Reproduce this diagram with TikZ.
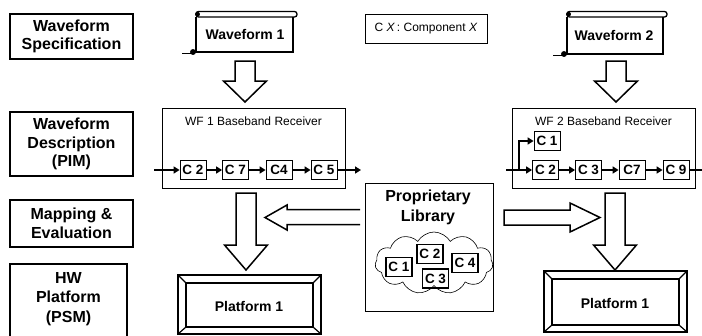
\documentclass[tikz,border=0pt]{standalone}
\usepackage{fontspec}
\setmainfont{Liberation Sans}
\usetikzlibrary{arrows.meta,shapes.symbols}

% scroll: body left, body right, top, bottom
\def\scrollshape(#1,#2,#3,#4){%
	\draw[line width=1.3pt, rounded corners=2.5pt] (#1,#3-5.5) rectangle (#2+4,#3);
	\filldraw[line width=0.8pt] (#1+1.5,#3-2.8) circle (2pt);
	\draw[line width=1.3pt] (#1,#3) -- (#1,#4) -- (#2,#4) -- (#2,#3);
	\filldraw[line width=0.8pt] (#1-3,#4) circle (2.5pt);
	\draw[line width=0.8pt] (#1-14,#4+1.5) -- (#1-3,#4+1.5);}
% block arrow pointing down: centre x, top y, head y, tip y
\def\blockdown(#1,#2,#3,#4){\draw[blockarrow] (#1-10,#2) -- (#1+10,#2) -- (#1+10,#3) -- (#1+21.5,#3) -- (#1,#4) -- (#1-21.5,#3) -- (#1-10,#3) -- cycle;}
% bevelled platform: left, top, right, bottom
\def\platform(#1,#2,#3,#4){%
	\draw[line width=1.6pt] (#1,#2) rectangle (#3,#4);
	\draw[line width=1.6pt] (#1+8,#2+8) rectangle (#3-8,#4-7);
	\draw[line width=1.2pt] (#1,#2) -- (#1+8,#2+8) (#3,#2) -- (#3-8,#2+8) (#1,#4) -- (#1+8,#4-7) (#3,#4) -- (#3-8,#4-7);}

\tikzset{
	lbl/.style={draw, line width=1.2pt, font=\fontsize{16}{18.5}\selectfont\bfseries, align=center, minimum width=123pt, inner sep=0pt},
	lbltext/.style={font=\fontsize{16}{19.5}\selectfont\bfseries, align=center, inner sep=0pt},
	bigtext/.style={font=\fontsize{14}{16}\selectfont\bfseries, inner sep=0pt},
	smalltext/.style={font=\fontsize{12}{14}\selectfont, inner sep=0pt},
	comp/.style={draw, line width=0.8pt, font=\fontsize{13.5}{15}\selectfont\bfseries, minimum width=26pt, minimum height=19pt, inner sep=0pt},
	libcomp/.style={comp, line width=1.6pt},
	pim/.style={draw, line width=0.8pt, minimum width=183pt, minimum height=80pt, inner sep=0pt},
	flow/.style={line width=1.5pt, -{Triangle[length=6pt,width=7pt]}},
	blockarrow/.style={draw, line width=1.5pt, fill=white, line join=miter},
}

\begin{document}
\begin{tikzpicture}[x=1pt, y=-1pt]
		%%%%% START %%%%%
		\useasboundingbox (0,0) rectangle (702,335);
		\clip (0,0) rectangle (702,335);
		
		% row labels
		\node[lbl, minimum height=45pt] (spec) at (71.5,36.5) {Waveform\\Specification};
		\node[lbl, minimum height=64pt] (desc) at (71.5,144) {Waveform\\Description\\(PIM)};
		\node[lbl, minimum height=47pt] (map) at (71.5,223.5) {Mapping \&\\Evaluation};
		\draw[line width=1.2pt] (10,345) -- (10,264) -- (127,264) -- (127,345);
		\node[lbltext] (hw) at (68.5,299) {HW\\Platform\\(PSM)};
		
		% waveforms
		\scrollshape(196,293,17,52)
		\node[bigtext] (wf1) at (245,34) {Waveform 1};
		\scrollshape(567,663,17,54)
		\node[bigtext] (wf2) at (614,35) {Waveform 2};
		\node[draw, line width=0.8pt, minimum width=122pt, minimum height=29pt, smalltext] (key) at (426,28.5) {C \textit{X}\,: Component \textit{X}};
		
		\blockdown(245,61,81,102)
		\blockdown(616,61,81,102)
		
		% WF 1 receiver
		\node[pim] (pim1) at (253.5,148) {};
		\node[smalltext] (t1) at (253.5,121) {WF 1 Baseband Receiver};
		\node[comp] (a2) at (193,170) {C 2};
		\node[comp] (a7) at (235.5,170) {C 7};
		\node[comp] (a4) at (279,170) {C4};
		\node[comp] (a5) at (324,170) {C 5};
		\coordinate (in1) at (154,170);
		\coordinate (out1) at (361,170);
		\draw[flow] (in1) -- (a2);
		\draw[flow] (a2) -- (a7);
		\draw[flow] (a7) -- (a4);
		\draw[flow] (a4) -- (a5);
		\draw[flow] (a5) -- (out1);
		
		% WF 2 receiver
		\node[pim] (pim2) at (603.5,148) {};
		\node[smalltext] (t2) at (603.5,121) {WF 2 Baseband Receiver};
		\node[comp] (b1) at (547,141) {C 1};
		\node[comp] (b2) at (545.5,170) {C 2};
		\node[comp] (b3) at (588.5,170) {C 3};
		\node[comp] (b7) at (632,170) {C7};
		\node[comp] (b9) at (676,170) {C 9};
		\coordinate (in2) at (506,170);
		\coordinate (fork2) at (519,170);
		\coordinate (out2) at (705,170);
		\draw[flow, line width=2.2pt] (in2) -- (b2);
		\draw[flow, line width=2.2pt] (fork2) |- (b1);
		\draw[flow] (b2) -- (b3);
		\draw[flow] (b3) -- (b7);
		\draw[flow] (b7) -- (b9);
		\draw[line width=1.5pt] (b9) -- (out2);
		
		\blockdown(246,193,245,270)
		\blockdown(615,193,245,270)
		
		% library
		\node[draw, line width=1pt, minimum width=128pt, minimum height=128pt] (lib) at (429,247) {};
		\node[lbltext] (libtxt) at (428,207.5) {Proprietary\\Library};
		\node[cloud, draw, line width=0.6pt, cloud puffs=11, cloud puff arc=120, aspect=1.9, minimum width=118pt, minimum height=62pt, inner sep=0pt] (cloud) at (434,263) {};
		\node[libcomp] (l1) at (399,267) {C 1};
		\node[libcomp] (l2) at (430,254) {C 2};
		\node[libcomp] (l3) at (435.5,278.5) {C 3};
		\node[libcomp] (l4) at (465,263) {C 4};
		
		\draw[blockarrow] (360,209.5) -- (287,209.5) -- (287,205) -- (265,217.5) -- (287,230) -- (287,224.5) -- (360,224.5);
		\draw[blockarrow] (504,210) -- (570,210) -- (570,203) -- (600,217.5) -- (570,232) -- (570,225) -- (504,225) -- cycle;
		
		% platforms
		\platform(178,275,321,334)
		\node[bigtext] (p1) at (249,306) {Platform 1};
		\platform(544,271,687,332)
		\node[bigtext] (p2) at (615,303) {Platform 1};
		
		%%%%% END %%%%%
\end{tikzpicture}
\end{document}
